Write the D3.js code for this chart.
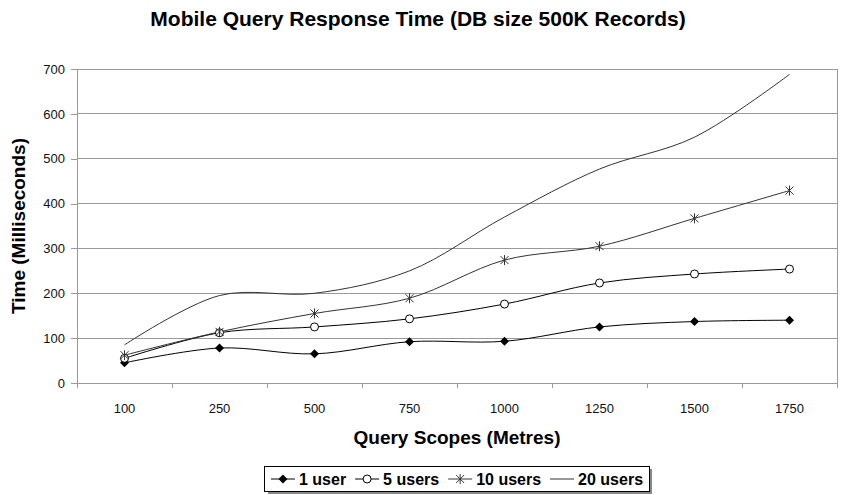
<!DOCTYPE html>
<html lang="en">
<head>
    <meta charset="UTF-8">
    <title>Mobile Query Response Time (DB size 500K Records)</title>
    <script src="https://d3js.org/d3.v7.min.js"></script>
    <style>
        body { margin: 0; background: #fff; }
        svg { display: block; font-family: "Liberation Sans", Arial, sans-serif; }
        .tick text { fill: #111; }
    </style>
</head>
<body>
    <svg id="chart" width="842" height="495"></svg>
    <script>
        // Values
        const scopes = ["100", "250", "500", "750", "1000", "1250", "1500", "1750"];
        const oneUser = [45, 78, 65, 92, 93, 125, 137, 140];
        const fiveUsers = [55, 112, 125, 143, 176, 223, 243, 254];
        const tenUsers = [62, 114, 155, 189, 274, 305, 367, 429];
        const twentyUsers = [85, 195, 200, 250, 370, 477, 548, 688];
        const seriesNames = ["1 user", "5 users", "10 users", "20 users"];
        const yTicks = [0, 100, 200, 300, 400, 500, 600, 700];

        const series = [
            { name: seriesNames[0], values: oneUser, marker: "diamond", color: "#000" },
            { name: seriesNames[1], values: fiveUsers, marker: "circle", color: "#000" },
            { name: seriesNames[2], values: tenUsers, marker: "star", color: "#333" },
            { name: seriesNames[3], values: twentyUsers, marker: "none", color: "#333" }
        ];

        const svg = d3.select("#chart");
        const margin = { top: 69, right: 5, bottom: 112, left: 77 };
        const width = 842 - margin.left - margin.right;
        const height = 495 - margin.top - margin.bottom;
        const grid = "#999";

        const chart = svg.append("g").attr("transform", `translate(${margin.left},${margin.top})`);

        // Scales
        const x = d3.scaleBand().domain(scopes).range([0, width]);
        const y = d3.scaleLinear().domain([0, 700]).range([height, 0]);

        // Horizontal gridlines
        chart.append("g")
            .selectAll("line")
            .data(yTicks.slice(1))
            .enter().append("line")
            .attr("x1", 0).attr("x2", width)
            .attr("y1", d => y(d)).attr("y2", d => y(d))
            .attr("stroke", grid).attr("shape-rendering", "crispEdges");

        // Right border of the plot
        chart.append("line")
            .attr("x1", width).attr("x2", width).attr("y1", 0).attr("y2", height)
            .attr("stroke", grid).attr("shape-rendering", "crispEdges");

        // Y axis
        const yAxis = chart.append("g")
            .call(d3.axisLeft(y).tickValues(yTicks).tickSize(6).tickPadding(6));
        yAxis.selectAll("line, path").attr("stroke", grid).attr("shape-rendering", "crispEdges");
        yAxis.select(".domain").attr("d", `M0,0V${height}`);
        yAxis.selectAll("text").style("font-size", "13px");

        // X axis: tick marks sit on the category boundaries
        const xAxis = chart.append("g").attr("transform", `translate(0,${height})`)
            .call(d3.axisBottom(x).tickSize(0).tickPadding(21));
        xAxis.select(".domain").attr("stroke", grid).attr("d", `M0,0H${width}`)
            .attr("shape-rendering", "crispEdges");
        xAxis.selectAll("text").style("font-size", "13px");
        xAxis.selectAll(".bound")
            .data(d3.range(scopes.length + 1))
            .enter().append("line")
            .attr("class", "bound")
            .attr("x1", i => i * x.step()).attr("x2", i => i * x.step())
            .attr("y1", 0).attr("y2", 5)
            .attr("stroke", grid).attr("shape-rendering", "crispEdges");

        // Smoothed lines like Excel
        const line = d3.line()
            .x((d, i) => x(scopes[i]) + x.bandwidth() / 2)
            .y(d => y(d))
            .curve(d3.curveCatmullRom.alpha(0.5));

        series.forEach(s => {
            chart.append("path")
                .datum(s.values)
                .attr("fill", "none")
                .attr("stroke", s.color)
                .attr("stroke-width", 1)
                .attr("d", line);
        });

        // Marker symbols
        function drawMarker(g, type, color) {
            if (type === "diamond") {
                g.append("path").attr("d", "M0,-4.5L4.5,0L0,4.5L-4.5,0Z").attr("fill", "#000");
            } else if (type === "circle") {
                g.append("circle").attr("r", 4).attr("fill", "#fff").attr("stroke", "#000");
            } else if (type === "star") {
                g.append("path").attr("d", "M-4,-4L4,4M-4,4L4,-4M0,-5V5")
                    .attr("fill", "none").attr("stroke", color).attr("stroke-width", 1);
            }
        }

        series.forEach(s => {
            chart.append("g")
                .selectAll("g")
                .data(s.values)
                .enter().append("g")
                .attr("transform", (d, i) => `translate(${x(scopes[i]) + x.bandwidth() / 2},${y(d)})`)
                .each(function() { drawMarker(d3.select(this), s.marker, s.color); });
        });

        // Titles
        svg.append("text")
            .attr("x", 418).attr("y", 26)
            .attr("text-anchor", "middle")
            .style("font-size", "21px").style("font-weight", "bold")
            .text("Mobile Query Response Time (DB size 500K Records)");

        svg.append("text")
            .attr("x", margin.left + width / 2).attr("y", 444)
            .attr("text-anchor", "middle")
            .style("font-size", "19px").style("font-weight", "bold")
            .text("Query Scopes (Metres)");

        svg.append("text")
            .attr("transform", `translate(25,${margin.top + height / 2}) rotate(-90)`)
            .attr("text-anchor", "middle")
            .style("font-size", "19px").style("font-weight", "bold")
            .text("Time (Milliseconds)");

        // Legend
        const legend = svg.append("g");
        const shadow = legend.append("rect").attr("fill", "#888");
        const box = legend.append("rect").attr("fill", "#fff").attr("stroke", "#000")
            .attr("shape-rendering", "crispEdges");
        let cx = 0;
        const items = legend.append("g");
        series.forEach(s => {
            const item = items.append("g").attr("transform", `translate(${cx},0)`);
            item.append("line").attr("x1", 0).attr("x2", 24).attr("y1", 0).attr("y2", 0)
                .attr("stroke", s.color);
            drawMarker(item.append("g").attr("transform", "translate(12,0)"), s.marker, s.color);
            const t = item.append("text").attr("x", 28).attr("dy", "0.35em")
                .style("font-size", "16px").style("font-weight", "bold")
                .text(s.name);
            cx += 28 + t.node().getComputedTextLength() + 9;
        });
        const legendW = cx - 9 + 12;
        const lx = margin.left + width / 2 - legendW / 2;
        legend.attr("transform", `translate(${lx},466)`);
        items.attr("transform", "translate(6,13)");
        box.attr("x", 0).attr("y", 0).attr("width", legendW).attr("height", 25);
        shadow.attr("x", 3).attr("y", 3).attr("width", legendW).attr("height", 25);
    </script>
</body>
</html>
